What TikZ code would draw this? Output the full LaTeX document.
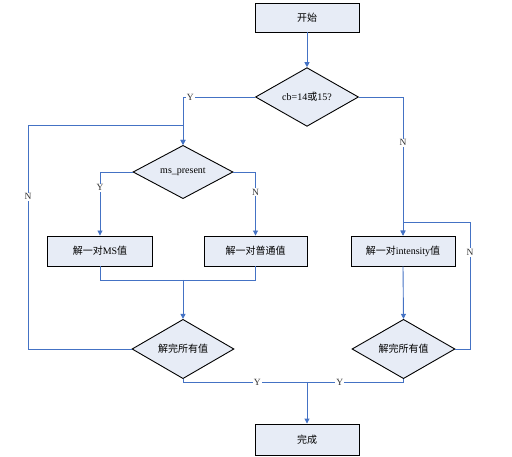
\documentclass[tikz,border=0pt]{standalone}
\usepackage{fontspec}
\setmainfont{Liberation Serif}
\newfontfamily\cjk{Noto Sans CJK SC}
\usetikzlibrary{shapes.geometric,arrows.meta}
\definecolor{lineblue}{HTML}{4472C4}
\definecolor{boxfill}{HTML}{E7ECF6}
\begin{document}
\begin{tikzpicture}[x=1pt,y=-1pt,
  every node/.style={font=\fontsize{10}{12}\selectfont},
  procbox/.style={draw=black,line width=0.9pt,fill=boxfill,rectangle,inner sep=0pt,minimum height=30pt},
  decision/.style={draw=black,line width=0.9pt,fill=boxfill,diamond,inner sep=0pt},
  conn/.style={draw=lineblue,line width=0.9pt,-{Triangle[width=5pt,length=5pt]}},
  plain/.style={draw=lineblue,line width=0.9pt},
  lbl/.style={fill=white,inner sep=1pt,text=black!80,font=\fontsize{9.5}{11}\selectfont}]
\useasboundingbox (0,0) rectangle (512,457);
\node[procbox,minimum width=104pt,minimum height=29pt] (start) at (307,17.5) {\cjk 开始};
\node[decision,minimum width=103pt,minimum height=37pt] (cb) at (307,97) {cb=14{\cjk 或}15?};
\node[decision,minimum width=100pt,minimum height=38pt] (ms) at (183,172) {ms\_present};
\node[procbox,minimum width=105pt] (msbox) at (100,251) {{\cjk 解一对}MS{\cjk 值}};
\node[procbox,minimum width=103pt] (normbox) at (255.5,251) {\cjk 解一对普通值};
\node[procbox,minimum width=104pt] (intbox) at (403,251) {{\cjk 解一对}intensity{\cjk 值}};
\node[decision,minimum width=102pt,minimum height=36pt] (d1) at (183,349) {\cjk 解完所有值};
\node[decision,minimum width=103pt,minimum height=36pt] (d2) at (403.5,349) {\cjk 解完所有值};
\node[procbox,minimum width=104pt,minimum height=31pt] (end) at (307,439.5) {\cjk 完成};
\coordinate (lA) at (28,125);
\coordinate (rA) at (470,222);
\coordinate (mj) at (183,280);
\coordinate (ej) at (307,382);
\draw[conn] (start) -- (cb);
\draw[conn] (cb.west) -| node[lbl,pos=0.45] {Y} (ms.north);
\draw[conn] (cb.east) -| node[lbl,pos=0.665] {N} (intbox.north);
\draw[conn] (ms.west) -| node[lbl,pos=0.625] {Y} (msbox.north);
\draw[conn] (ms.east) -| node[lbl,pos=0.66] {N} (normbox.north);
\draw[conn] (d1.west) -| node[lbl,pos=0.84] {N} (lA) -| (ms.north);
\draw[conn] (d2.east) -| node[lbl,pos=0.88] {N} (rA) -| (intbox.north);
\draw[plain] (msbox.south) |- (mj);
\draw[plain] (normbox.south) |- (mj);
\draw[conn] (mj) -- (d1.north);
\draw[conn] (intbox.south) -- (d2.north);
\draw[plain] (d1.south) |- node[lbl,pos=0.8] {Y} (ej);
\draw[plain] (d2.south) |- node[lbl,pos=0.83] {Y} (ej);
\draw[conn] (ej) -- (end.north);
\end{tikzpicture}
\end{document}
